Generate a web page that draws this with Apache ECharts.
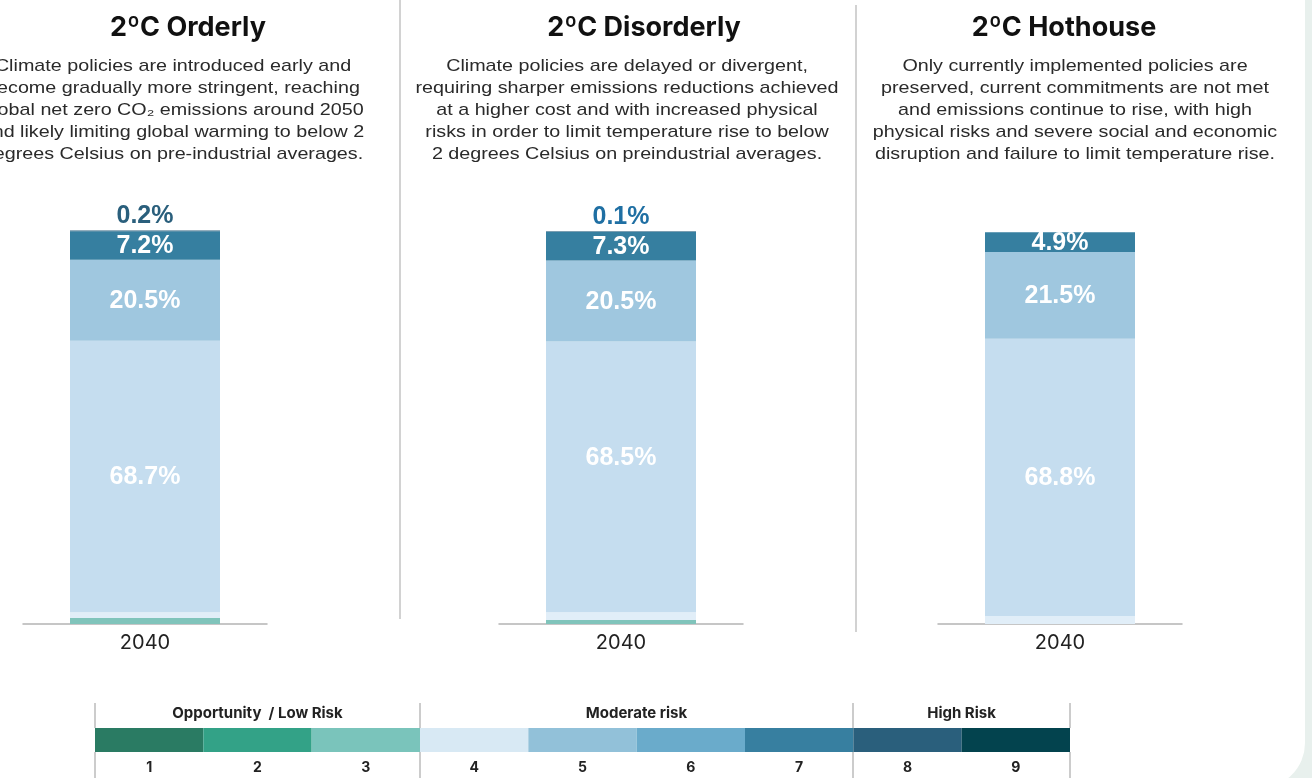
<!DOCTYPE html>
<html>
<head>
<meta charset="utf-8">
<script src="https://cdn.jsdelivr.net/npm/echarts@6/dist/echarts.min.js"></script>
<style>
html,body{margin:0;padding:0;background:#e8f0ed;}
#c{width:1312px;height:778px;}
</style>
</head>
<body>
<div id="c"></div>
<script>
// ---- data ----
const scenarios = ['2ºC Orderly', '2ºC Disorderly', '2ºC Hothouse'];
const years = ['2040'];
const descriptions = [
  'Climate policies are introduced early and\nbecome gradually more stringent, reaching\nglobal net zero CO\u2082 emissions around 2050\nand likely limiting global warming to below 2\ndegrees Celsius on pre-industrial averages.',
  'Climate policies are delayed or divergent,\nrequiring sharper emissions reductions achieved\nat a higher cost and with increased physical\nrisks in order to limit temperature rise to below\n2 degrees Celsius on preindustrial averages.',
  'Only currently implemented policies are\npreserved, current commitments are not met\nand emissions continue to rise, with high\nphysical risks and severe social and economic\ndisruption and failure to limit temperature rise.'
];
// share of exposure per risk class, one value per scenario (2040)
const risk3 = [1.5, 1.0, 0];
const risk4 = [1.5, 2.0, 2.0];
const risk5 = [68.7, 68.5, 68.8];
const risk6 = [20.5, 20.5, 21.5];
const risk7 = [7.2, 7.3, 4.9];
const risk8 = [0.2, 0.1, 0];
const legendClasses = ['1', '2', '3', '4', '5', '6', '7', '8', '9'];
const legendGroups = ['Opportunity  / Low Risk', 'Moderate risk', 'High Risk'];

// ---- styles / layout ----
const legendColors = ['#2a7b63', '#33a287', '#7ac4bb', '#d8e9f4', '#92c1d9', '#6aabcb', '#377fa0', '#2a5f7c', '#03434e'];
const riskClasses = [
  {name: 'Risk 3', data: risk3, color: '#80c4bb', label: 'none'},
  {name: 'Risk 4', data: risk4, color: '#e1eef8', label: 'none'},
  {name: 'Risk 5', data: risk5, color: '#c5ddef', label: 'inside'},
  {name: 'Risk 6', data: risk6, color: '#9fc7df', label: 'inside'},
  {name: 'Risk 7', data: risk7, color: '#367fa0', label: 'inside'},
  {name: 'Risk 8', data: risk8, color: '#2a5f7c', label: 'top'}
];
const panelLeft = [23, 499, 938];
const panelWidth = 244;
const gridTop = 229, gridHeight = 395;
const yMax = [100, 100, 98];
const topLabelColors = ['#2a5f7c', '#1f6fa3', '#2a5f7c'];
const titleX = [188, 644, 1064];
const descX = [173, 627, 1075];

const LABEL_FONT = '"Liberation Sans", Arial, sans-serif';
const grids = [], xAxes = [], yAxes = [], series = [];
scenarios.forEach((s, p) => {
  grids.push({left: panelLeft[p], top: gridTop, width: panelWidth, height: gridHeight});
  xAxes.push({
    type: 'category', gridIndex: p, data: years,
    axisLine: {lineStyle: {color: '#b4b4b4', width: 1.5}},
    axisTick: {show: false},
    axisLabel: {color: '#222', fontSize: 20, fontFamily: 'Inter, sans-serif', margin: 9}
  });
  yAxes.push({type: 'value', gridIndex: p, min: 0, max: yMax[p], show: false, splitLine: {show: false}});
  riskClasses.forEach(rc => {
    const v = rc.data[p];
    let label = {show: false};
    if (rc.label === 'inside' && v > 0) {
      label = {show: true, position: 'inside', color: '#fff', fontWeight: 'bold', fontSize: 25,
        fontFamily: LABEL_FONT, formatter: d => d.value.toFixed(1) + '%',
        offset: (rc.name === 'Risk 5' && p === 1) ? [0, -19] : [0, 1]};
    } else if (rc.label === 'top' && v > 0) {
      label = {show: true, position: 'top', distance: 2, color: topLabelColors[p], fontWeight: 'bold',
        fontSize: 25, fontFamily: LABEL_FONT, formatter: d => d.value.toFixed(1) + '%'};
    }
    series.push({
      type: 'bar', name: rc.name, xAxisIndex: p, yAxisIndex: p, stack: 'stack' + p,
      barWidth: 150, data: [v], itemStyle: {color: rc.color}, label: label,
      emphasis: {disabled: true}, animation: false
    });
  });
});

// legend key as a bar strip
grids.push({left: 95, top: 728, width: 975, height: 24});
xAxes.push({type: 'category', gridIndex: 3, data: legendClasses,
  axisLine: {show: false}, axisTick: {show: false},
  axisLabel: {color: '#222', fontSize: 14, fontWeight: 'bold', fontFamily: 'Inter, sans-serif', margin: 9}});
yAxes.push({type: 'value', gridIndex: 3, min: 0, max: 1, show: false, splitLine: {show: false}});
series.push({type: 'bar', xAxisIndex: 3, yAxisIndex: 3, barWidth: '100%', animation: false,
  data: legendClasses.map((c, i) => ({value: 1, itemStyle: {color: legendColors[i]}}))});

const graphics = [
  {type: 'rect', z: -10, shape: {x: -60, y: -60, width: 1365, height: 848, r: [0, 0, 45, 0]}, style: {fill: '#ffffff'}},
  {type: 'line', shape: {x1: 400, y1: 0, x2: 400, y2: 619}, style: {stroke: '#d2d2d2', lineWidth: 2}},
  {type: 'line', shape: {x1: 856, y1: 5, x2: 856, y2: 632}, style: {stroke: '#d2d2d2', lineWidth: 2}}
];
scenarios.forEach((s, p) => {
  graphics.push({type: 'text', x: titleX[p], y: 28, style: {text: s, textAlign: 'center', textVerticalAlign: 'middle',
    font: 'bold 27px Inter, sans-serif', fill: '#111'}});
  graphics.push({type: 'text', x: descX[p], y: 55, scaleX: 1.16, style: {text: descriptions[p], textAlign: 'center',
    textVerticalAlign: 'top', font: '17px "Liberation Sans", Arial, sans-serif', lineHeight: 22, fill: '#2a2a2a'}});
});
const groupX = [257.5, 636.5, 961.5];
legendGroups.forEach((g, i) => {
  graphics.push({type: 'text', x: groupX[i], y: 713, style: {text: g, textAlign: 'center', textVerticalAlign: 'middle',
    font: 'bold 15px Inter, sans-serif', fill: '#222'}});
});
[95, 420, 853, 1070].forEach(x => {
  graphics.push({type: 'line', shape: {x1: x, y1: 703, x2: x, y2: 728}, style: {stroke: '#cccccc', lineWidth: 2}});
  graphics.push({type: 'line', shape: {x1: x, y1: 752, x2: x, y2: 778}, style: {stroke: '#cccccc', lineWidth: 2}});
});

const chart = echarts.init(document.getElementById('c'), null, {renderer: 'canvas'});
chart.setOption({
  backgroundColor: 'transparent',
  animation: false,
  grid: grids, xAxis: xAxes, yAxis: yAxes, series: series,
  graphic: {elements: graphics}
});
</script>
</body>
</html>
